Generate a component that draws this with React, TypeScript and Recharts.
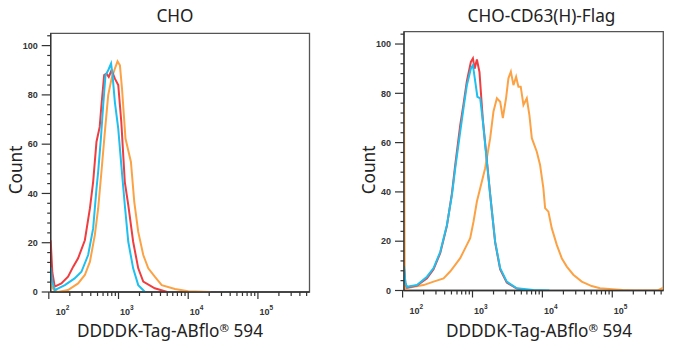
import { Line, LineChart, ReferenceArea, XAxis, YAxis } from "recharts";

// x values are log10(fluorescence), y is Count
const CHO_RED = [
  [2.027, 21], [2.05, 8], [2.085, 2.2], [2.18, 3.5], [2.276, 6.2], [2.35, 10.3],
  [2.42, 13.7], [2.517, 21], [2.59, 34], [2.636, 44.7], [2.684, 61], [2.73, 67],
  [2.755, 75.8], [2.794, 88], [2.827, 88.6], [2.86, 87.3], [2.9, 90], [2.948, 86.6],
  [2.996, 84], [3.04, 69], [3.09, 44.7], [3.14, 35.3], [3.21, 20.4], [3.283, 9.6],
  [3.355, 4.2], [3.52, 1.5], [3.7, 0],
];
const CHO_BLUE = [
  [2.027, 10], [2.05, 4], [2.085, 0.8], [2.23, 2.8], [2.37, 5.5], [2.468, 8.2],
  [2.564, 15], [2.636, 25.8], [2.684, 42], [2.708, 48.8], [2.747, 62.3], [2.78, 75.8],
  [2.813, 88], [2.852, 90], [2.893, 92.7], [2.914, 88], [2.948, 77], [2.996, 66.3],
  [3.04, 51.5], [3.09, 35.3], [3.14, 20.4], [3.21, 9.6], [3.283, 2.8], [3.38, 0],
];
const CHO_ORANGE = [
  [2.027, 3], [2.07, 1], [2.13, 0], [2.276, 0.8], [2.42, 3.5], [2.517, 6.9],
  [2.59, 12.3], [2.66, 23.1], [2.708, 33.9], [2.755, 48.8], [2.804, 65], [2.852, 79.9],
  [2.9, 86.6], [2.948, 90.7], [2.986, 93.6], [3.02, 92], [3.05, 82.6], [3.1, 62.3],
  [3.178, 52.8], [3.226, 36.6], [3.283, 24.4], [3.355, 15], [3.427, 9.6], [3.52, 6.2],
  [3.62, 2.8], [3.81, 1.2], [4.0, 0.3], [4.32, 0],
];

const CD63_RED = [
  [2.02, 9], [2.04, 3], [2.063, 1.2], [2.206, 2.0], [2.349, 5.0], [2.443, 8.6],
  [2.539, 15.2], [2.634, 26.2], [2.706, 39.5], [2.753, 51], [2.824, 67], [2.871, 75.5],
  [2.92, 85], [2.977, 92.8], [3.006, 94.2], [3.03, 90], [3.063, 93.7], [3.1, 88.6],
  [3.13, 76.5], [3.149, 69], [3.196, 55.5], [3.253, 39], [3.324, 19.5], [3.396, 8.5],
  [3.49, 3.2], [3.634, 0.8], [3.8, 0],
];
const CD63_BLUE = [
  [2.02, 10], [2.04, 3], [2.063, 1.5], [2.206, 2.2], [2.349, 5.6], [2.443, 9.1],
  [2.539, 15.7], [2.634, 26.6], [2.706, 38.7], [2.753, 49.6], [2.824, 64.4], [2.871, 73.9],
  [2.92, 83.4], [2.977, 90.1], [3.006, 91.4], [3.04, 84.6], [3.07, 78.6], [3.11, 78],
  [3.149, 68.4], [3.196, 54.9], [3.253, 38.7], [3.324, 19.8], [3.396, 9.1], [3.49, 3.6],
  [3.634, 0.9], [3.87, 0.2], [4.1, 0],
];
const CD63_ORANGE = [
  [2.02, 76], [2.03, 4], [2.04, 0.9], [2.157, 1.5], [2.3, 2.2], [2.443, 3.6],
  [2.586, 4.9], [2.68, 7.7], [2.753, 10.4], [2.824, 13.1], [2.896, 17.2], [2.967, 21.2],
  [3.015, 28], [3.063, 36.1], [3.11, 41.5], [3.181, 49.6], [3.253, 61.8], [3.3, 72.6],
  [3.349, 78], [3.396, 76.6], [3.434, 69.9], [3.48, 78], [3.514, 86.1], [3.549, 88.8],
  [3.586, 83.3], [3.624, 86.7], [3.657, 82.7], [3.69, 82.7], [3.729, 75.3], [3.777, 78],
  [3.814, 71.2], [3.849, 61.8], [3.92, 56.3], [3.967, 50.9], [4.014, 41.5], [4.039, 33.4],
  [4.086, 32], [4.134, 25.3], [4.206, 18.5], [4.277, 13.1], [4.349, 9.7], [4.443, 6.4],
  [4.563, 3.6], [4.706, 1.8], [4.824, 0.9], [5.0, 0.5], [5.15, 0.2], [5.3, 0],
  [5.65, 0], [5.73, 1.2],
];

const Y_MAJOR = [0, 20, 40, 60, 80, 100];
const DECADES = [2, 3, 4, 5];

const RED = "#ef3d40";
const BLUE = "#1fbfee";
const ORANGE = "#fca244";
const AXIS = "#333";
const FONT = "'Noto Sans', 'Open Sans', sans-serif";
const TICK_FONT = "'Liberation Sans', Arial, sans-serif";

const yTicks = Array.from({ length: 27 }, (_, i) => i * 4);
const xTicks = DECADES.flatMap((d) =>
  [1, 2, 3, 4, 5, 6, 7, 8, 9].map((k) => d + Math.log10(k))
);

const toPts = (arr: number[][]) => arr.map(([x, y]) => ({ x, y }));

function XTick(props: any) {
  const { x, y, payload } = props;
  const v: number = payload.value;
  const major = Math.abs(v - Math.round(v)) < 1e-9;
  const nudge = v === 2 ? 7 : 1.5;
  return (
    <g>
      <line x1={x} x2={x} y1={y} y2={y + (major ? 7 : 4)} stroke={AXIS} strokeWidth={1.2} />
      {major && (
        <text x={x + nudge} y={y + 23} fontSize={9} fontFamily={TICK_FONT} fontWeight="bold" fill="#333">
          10
          <tspan dy={-5} fontSize={6.5}>{v}</tspan>
        </text>
      )}
    </g>
  );
}

function YTick(props: any) {
  const { x, y, payload } = props;
  const v: number = payload.value;
  const major = Y_MAJOR.includes(v);
  return (
    <g>
      <line x1={x - (major ? 9 : 3.5)} x2={x} y1={y} y2={y} stroke={AXIS} strokeWidth={1.2} />
      {major && (
        <text x={x - 13} y={y + 3.2} textAnchor="end" fontSize={9} fontFamily={TICK_FONT} fontWeight="bold" fill="#333">
          {v}
        </text>
      )}
    </g>
  );
}

interface PanelProps {
  width: number;
  margin: { top: number; right: number; bottom: number; left: number };
  domain: [number, number];
  red: number[][];
  blue: number[][];
  orange: number[][];
}

function Panel({ width, margin, domain, red, blue, orange }: PanelProps) {
  return (
    <LineChart width={width} height={350} margin={margin}>
      <XAxis
        type="number"
        dataKey="x"
        domain={domain}
        allowDataOverflow
        ticks={xTicks.filter((t) => t <= domain[1])}
        interval={0}
        tick={<XTick />}
        tickLine={false}
        tickSize={0}
        tickMargin={0}
        height={30}
        stroke={AXIS}
        strokeWidth={1.3}
      />
      <YAxis
        type="number"
        domain={[0, 105]}
        allowDataOverflow
        ticks={yTicks}
        interval={0}
        tick={<YTick />}
        tickLine={false}
        tickSize={0}
        tickMargin={0}
        width={40}
        stroke={AXIS}
        strokeWidth={1.3}
      />
      <ReferenceArea x1={domain[0]} x2={domain[1]} y1={0} y2={105} fill="none" stroke="#555" strokeWidth={1.3} />
      <Line data={toPts(orange)} dataKey="y" stroke={ORANGE} strokeWidth={2} dot={false} isAnimationActive={false} />
      <Line data={toPts(red)} dataKey="y" stroke={RED} strokeWidth={2} dot={false} isAnimationActive={false} />
      <Line data={toPts(blue)} dataKey="y" stroke={BLUE} strokeWidth={2} dot={false} isAnimationActive={false} />
    </LineChart>
  );
}

export default function App() {
  return (
    <div style={{ position: "absolute", left: 0, top: 0, width: 675, height: 350, background: "#fff" }}>
      <div style={{ position: "absolute", left: 0, top: 0 }}>
        <Panel
          width={337}
          margin={{ top: 33.3, right: 27.5, bottom: 28, left: 10.7 }}
          domain={[2.027, 5.74]}
          red={CHO_RED}
          blue={CHO_BLUE}
          orange={CHO_ORANGE}
        />
      </div>
      <div style={{ position: "absolute", left: 337, top: 0 }}>
        <Panel
          width={338}
          margin={{ top: 31.7, right: 11.7, bottom: 29.5, left: 27 }}
          domain={[2.02, 5.73]}
          red={CD63_RED}
          blue={CD63_BLUE}
          orange={CD63_ORANGE}
        />
      </div>
      <svg width={675} height={350} style={{ position: "absolute", left: 0, top: 0, pointerEvents: "none" }}>
        <g fontFamily={FONT} fill="#222" fontSize={17.2}>
          <text x={175} y={21.7} textAnchor="middle">CHO</text>
          <text x={541.5} y={21.7} textAnchor="middle">CHO-CD63(H)-Flag</text>
          <text transform="translate(21.5,170) rotate(-90)" textAnchor="middle">Count</text>
          <text transform="translate(375,170) rotate(-90)" textAnchor="middle">Count</text>
          <text x={170} y={336.7} textAnchor="middle">
            DDDDK-Tag-ABflo<tspan fontSize={11.5} dy={-5}>®</tspan><tspan dy={5}> 594</tspan>
          </text>
          <text x={539} y={336.7} textAnchor="middle">
            DDDDK-Tag-ABflo<tspan fontSize={11.5} dy={-5}>®</tspan><tspan dy={5}> 594</tspan>
          </text>
        </g>
      </svg>
    </div>
  );
}
